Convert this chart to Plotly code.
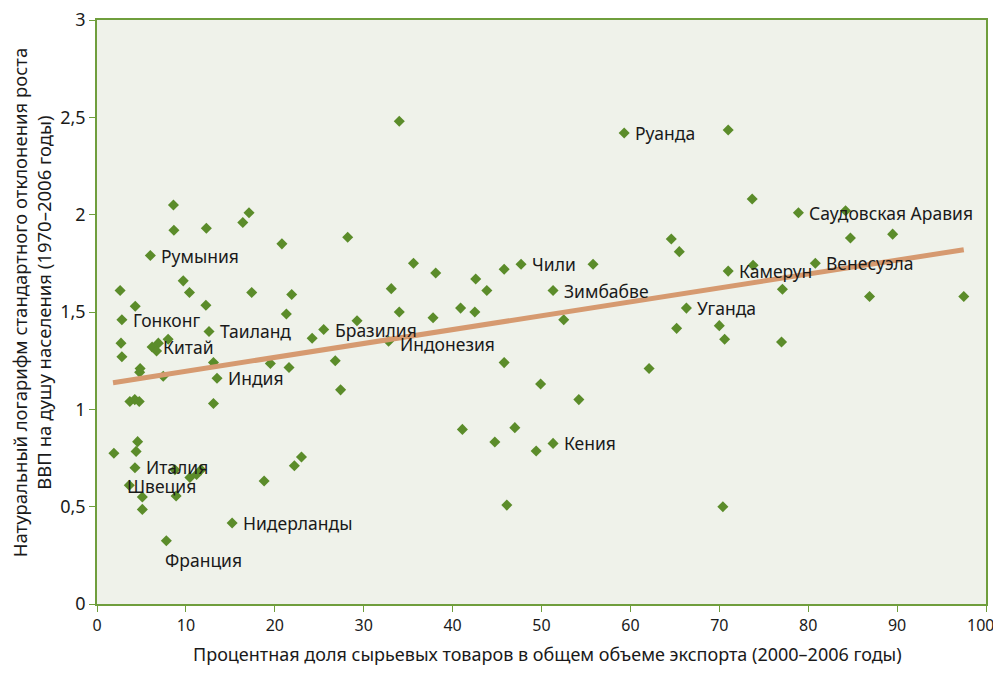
import plotly.graph_objects as go

# Commodity share of exports (%) and ln(std dev of GDP per capita growth)
x_vals = [2.6, 4.3, 2.8, 2.7, 2.8, 6.0, 8.6, 8.65, 12.3, 9.7, 10.4, 12.25, 12.6, 6.2, 6.9, 8.0, 6.7,
          4.85, 4.8, 7.45, 13.1, 13.5, 3.7, 4.25, 4.75, 13.1, 16.4, 17.1, 17.4, 19.5, 20.8, 21.3, 21.9,
          21.6, 22.2, 23.0, 18.8, 15.2, 7.8, 4.57, 4.4, 1.9, 4.27, 8.76, 10.45, 11.2, 11.7, 3.63, 5.1,
          8.9, 5.1, 24.2, 25.5, 26.8, 27.4, 29.25, 28.2, 32.8, 33.1, 34.0, 34.0, 35.6, 37.8, 38.1, 40.9,
          41.1, 42.5, 42.6, 43.85, 44.75, 45.8, 45.8, 46.1, 47.0, 47.7, 49.4, 49.9, 51.3, 51.3, 52.5,
          54.2, 55.8, 59.3, 62.1, 64.6, 65.5, 65.2, 66.3, 70.0, 70.6, 70.4, 71.0, 71.0, 73.7, 73.8,
          77.1, 77.0, 78.9, 80.8, 84.2, 84.75, 86.9, 89.5, 97.5]
y_vals = [1.61, 1.53, 1.46, 1.34, 1.27, 1.79, 2.05, 1.92, 1.93, 1.66, 1.60, 1.535, 1.40, 1.32, 1.34, 1.36, 1.30,
          1.21, 1.19, 1.17, 1.24, 1.16, 1.04, 1.05, 1.04, 1.03, 1.96, 2.01, 1.60, 1.235, 1.85, 1.49, 1.59,
          1.215, 0.71, 0.755, 0.632, 0.416, 0.325, 0.834, 0.784, 0.774, 0.70, 0.69, 0.65, 0.665, 0.69, 0.61, 0.55,
          0.555, 0.486, 1.365, 1.41, 1.25, 1.10, 1.455, 1.884, 1.35, 1.62, 1.50, 2.48, 1.75, 1.47, 1.70, 1.52,
          0.897, 1.50, 1.67, 1.61, 0.832, 1.72, 1.24, 0.508, 0.906, 1.745, 0.786, 1.13, 1.61, 0.825, 1.46,
          1.05, 1.745, 2.42, 1.21, 1.875, 1.81, 1.416, 1.52, 1.43, 1.36, 0.50, 2.435, 1.71, 2.08, 1.74,
          1.617, 1.346, 2.01, 1.75, 2.02, 1.88, 1.58, 1.90, 1.58]

# Trend line endpoints
trend_x = [1.8, 97.5]
trend_y = [1.137, 1.82]

# Labelled countries
label_names = ["Румыния", "Гонконг", "Таиланд", "Китай", "Индия", "Бразилия", "Индонезия", "Чили",
               "Зимбабве", "Руанда", "Саудовская Аравия", "Камерун", "Венесуэла", "Уганда", "Кения",
               "Италия", "Швеция", "Нидерланды", "Франция"]
label_x = [6.0, 2.8, 12.6, 6.2, 13.5, 25.5, 32.8, 47.7, 51.3, 59.3, 78.9, 71.0, 80.8, 66.3, 51.3,
           4.27, 3.63, 15.2, 7.8]
label_y = [1.79, 1.46, 1.40, 1.32, 1.16, 1.41, 1.35, 1.745, 1.61, 2.42, 2.01, 1.71, 1.75, 1.52, 0.825,
           0.70, 0.61, 0.416, 0.325]

y_tickvals = [0, 0.5, 1, 1.5, 2, 2.5, 3]
y_ticktext = ["0", "0,5", "1", "1,5", "2", "2,5", "3"]
x_tickvals = [0, 10, 20, 30, 40, 50, 60, 70, 80, 90, 100]
x_ticktext = ["0", "10", "20", "30", "40", "50", "60", "70", "80", "90", "100"]

x_title = "Процентная доля сырьевых товаров в общем объеме экспорта (2000–2006 годы)"
y_title = "Натуральный логарифм стандартного отклонения роста<br>ВВП на душу населения (1970–2006 годы)"

# label placement offsets (pixels): (xshift, yshift)
label_shift = {"Франция": (-3, -19), "Швеция": (-4, -1), "Италия": (9, 1), "Индонезия": (9, -3)}

GREEN = "#5b8c2a"
AXIS = "#6f9e3c"
TXT = "#1a1a1a"

fig = go.Figure()
fig.add_trace(go.Scatter(x=x_vals, y=y_vals, mode="markers",
                         marker=dict(symbol="diamond", size=8.5, color=GREEN),
                         showlegend=False, hoverinfo="x+y"))
fig.add_trace(go.Scatter(x=trend_x, y=trend_y, mode="lines",
                         line=dict(color="#d69a70", width=5), showlegend=False))

for name, lx, ly in zip(label_names, label_x, label_y):
    xs, ys = label_shift.get(name, (9, 0))
    fig.add_annotation(x=lx, y=ly, text=name, showarrow=False, xanchor="left", yanchor="middle",
                       xshift=xs, yshift=ys, font=dict(family="Noto Sans", size=17.5, color=TXT))

# the last x tick label sits at the window edge; draw it as a slightly inset annotation
fig.add_annotation(x=x_tickvals[-1], xref="x", yref="paper", y=-0.036, text=x_ticktext[-1],
                   showarrow=False, xanchor="center", yanchor="middle", xshift=-6,
                   font=dict(size=16, color=TXT))

# axis titles
fig.add_annotation(xref="paper", yref="paper", x=0.507, y=-0.086, text=x_title, showarrow=False,
                   xanchor="center", yanchor="middle", font=dict(size=18, color=TXT))
fig.add_annotation(xref="paper", yref="paper", x=-0.074, y=0.517, text=y_title, showarrow=False,
                   textangle=-90, xanchor="center", yanchor="middle", font=dict(size=18.5, color=TXT))

# the page body adds an 8 px offset, so the figure is sized to fit the window without scrolling
fig.update_layout(
    width=993, height=659,
    margin=dict(l=89, r=15, t=12, b=63),
    paper_bgcolor="white",
    plot_bgcolor="#eff2ea",
    font=dict(family="Noto Sans", color=TXT),
)
fig.update_xaxes(range=[0, 100], tickvals=x_tickvals, ticktext=x_ticktext[:-1] + [""],
                 showgrid=False, zeroline=False, automargin=False,
                 showline=True, linecolor=AXIS, linewidth=1.5, mirror=True,
                 ticks="outside", ticklen=6, tickcolor=AXIS, tickwidth=1,
                 ticklabeloverflow="allow",
                 tickfont=dict(size=16, color=TXT))
fig.update_yaxes(range=[0, 3], tickvals=y_tickvals, ticktext=y_ticktext, showgrid=False, zeroline=False,
                 automargin=False,
                 showline=True, linecolor=AXIS, linewidth=1.5, mirror=True,
                 ticks="outside", ticklen=6, tickcolor=AXIS, tickwidth=1,
                 ticklabeloverflow="allow",
                 tickfont=dict(size=18, color=TXT))

fig.write_html("out.html")
